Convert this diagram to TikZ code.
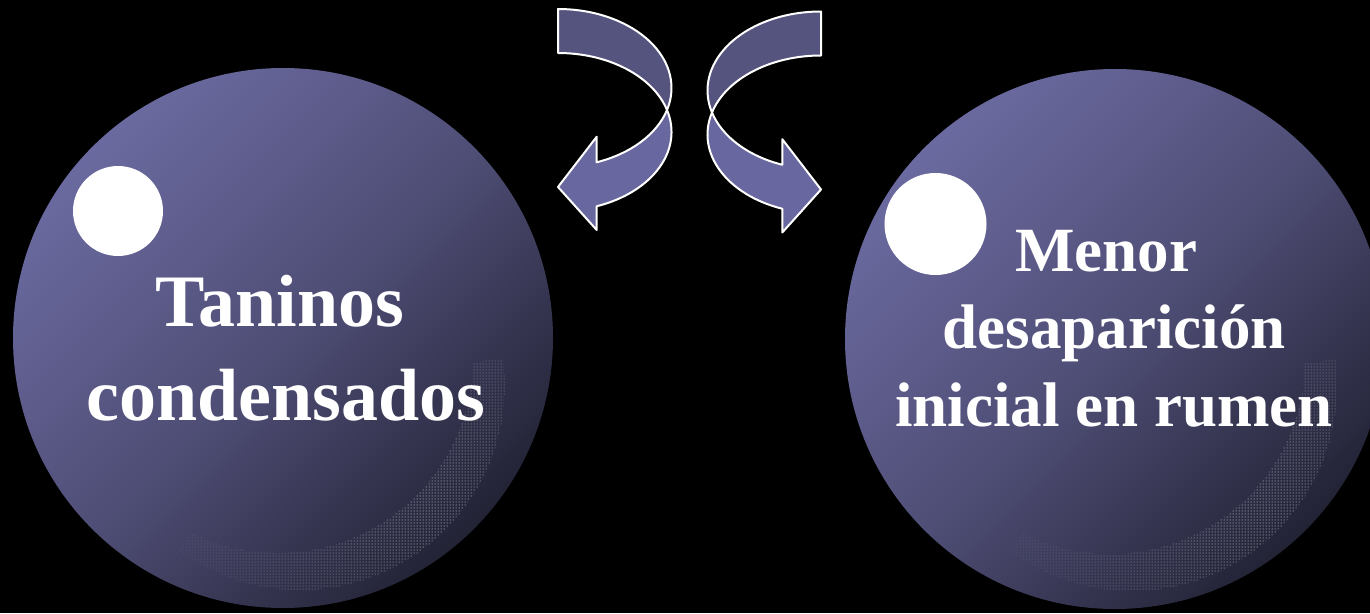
\documentclass[tikz,border=0pt]{standalone}
\usepackage{fontspec}
\setmainfont{Liberation Serif}
\usetikzlibrary{patterns,calc,fadings}
\definecolor{sphL}{HTML}{6B6AA0}
\definecolor{sphM}{HTML}{4F4E76}
\definecolor{sphD}{HTML}{232336}
\definecolor{arrBack}{HTML}{55547F}
\definecolor{arrFront}{HTML}{6867A0}
\tikzfading[name=spkfade, inner color=transparent!0, outer color=transparent!100]
\tikzset{
  sphere/.style={top color=sphL, bottom color=sphD, middle color=sphM, shading angle=45},
  bulletdot/.style={circle, fill=white, inner sep=0pt},
  bigtxt/.style={text=white, font=\bfseries\fontsize{74}{90}\selectfont, inner sep=0pt, anchor=base},
  midtxt/.style={text=white, font=\bfseries\fontsize{63}{78}\selectfont, inner sep=0pt, anchor=base},
  arrline/.style={draw=white, line width=2pt, line join=round},
  speckle/.style={pattern=dots, pattern color=white, even odd rule},
}
\newcommand{\myspeckle}[1]{%
  \begin{scope}
    \clip ($(#1)+(17,47)$) -- ($(#1)+(262,15)$) -- ($(#1)+(262,320)$) -- ($(#1)+(-170,300)$) -- cycle;
    \fill[speckle, path fading=spkfade, fit fading=false,
          fading transform={shift={($(#1)+(150,175)$)}, scale=12}]
      ($(#1)+(17,47)$) circle[radius=205] ($(#1)+(-5,20)$) circle[radius=195];
  \end{scope}}
\newcommand{\mycurvedarrow}{%
  \path[arrline, fill=arrBack] (558,9)
    arc[start angle=-90, end angle=16.17, x radius=113.5, y radius=79]
    arc[start angle=-16.17, end angle=-90, x radius=113.5, y radius=79] -- cycle;
  \path[arrline, fill=arrFront] ($(558,88)+(16.17:113.5 and 79)$)
    arc[start angle=16.17, end angle=70.06, x radius=113.5, y radius=79]
    -- (596.7,136.7) -- (558,187) -- (596.7,230) -- ($(558,132)+(70.06:113.5 and 79)$)
    arc[start angle=70.06, end angle=-16.17, x radius=113.5, y radius=79] -- cycle;}
\begin{document}
\begin{tikzpicture}[x=1pt,y=-1pt]
  \useasboundingbox (0,0) rectangle (1370,613);
  \fill[black] (0,0) rectangle (1370,613);
  \clip (0,0) rectangle (1370,613);
  % spheres
  \coordinate (cl) at (283,338);
  \coordinate (cr) at (1115,339);
  \shade[sphere] (cl) circle[radius=270];
  \shade[sphere] (cr) circle[radius=270];
  \myspeckle{cl}
  \myspeckle{cr}
  % bullets
  \node[bulletdot, minimum size=90pt] (b1) at (118,211) {};
  \node[bulletdot, minimum size=102pt] (b2) at (935.5,224) {};
  % texts
  \node[bigtxt] (t1) at (280,326) {Taninos};
  \node[bigtxt] (t2) at (286,420) {condensados};
  \node[midtxt] (r1) at (1106,271) {Menor};
  \node[midtxt] (r2) at (1114,348) {desaparición};
  \node[midtxt] (r3) at (1114,426) {inicial en rumen};
  % arrows
  \mycurvedarrow
  \begin{scope}[shift={(1379,2.5)}, xscale=-1]
    \mycurvedarrow
  \end{scope}
\end{tikzpicture}
\end{document}
